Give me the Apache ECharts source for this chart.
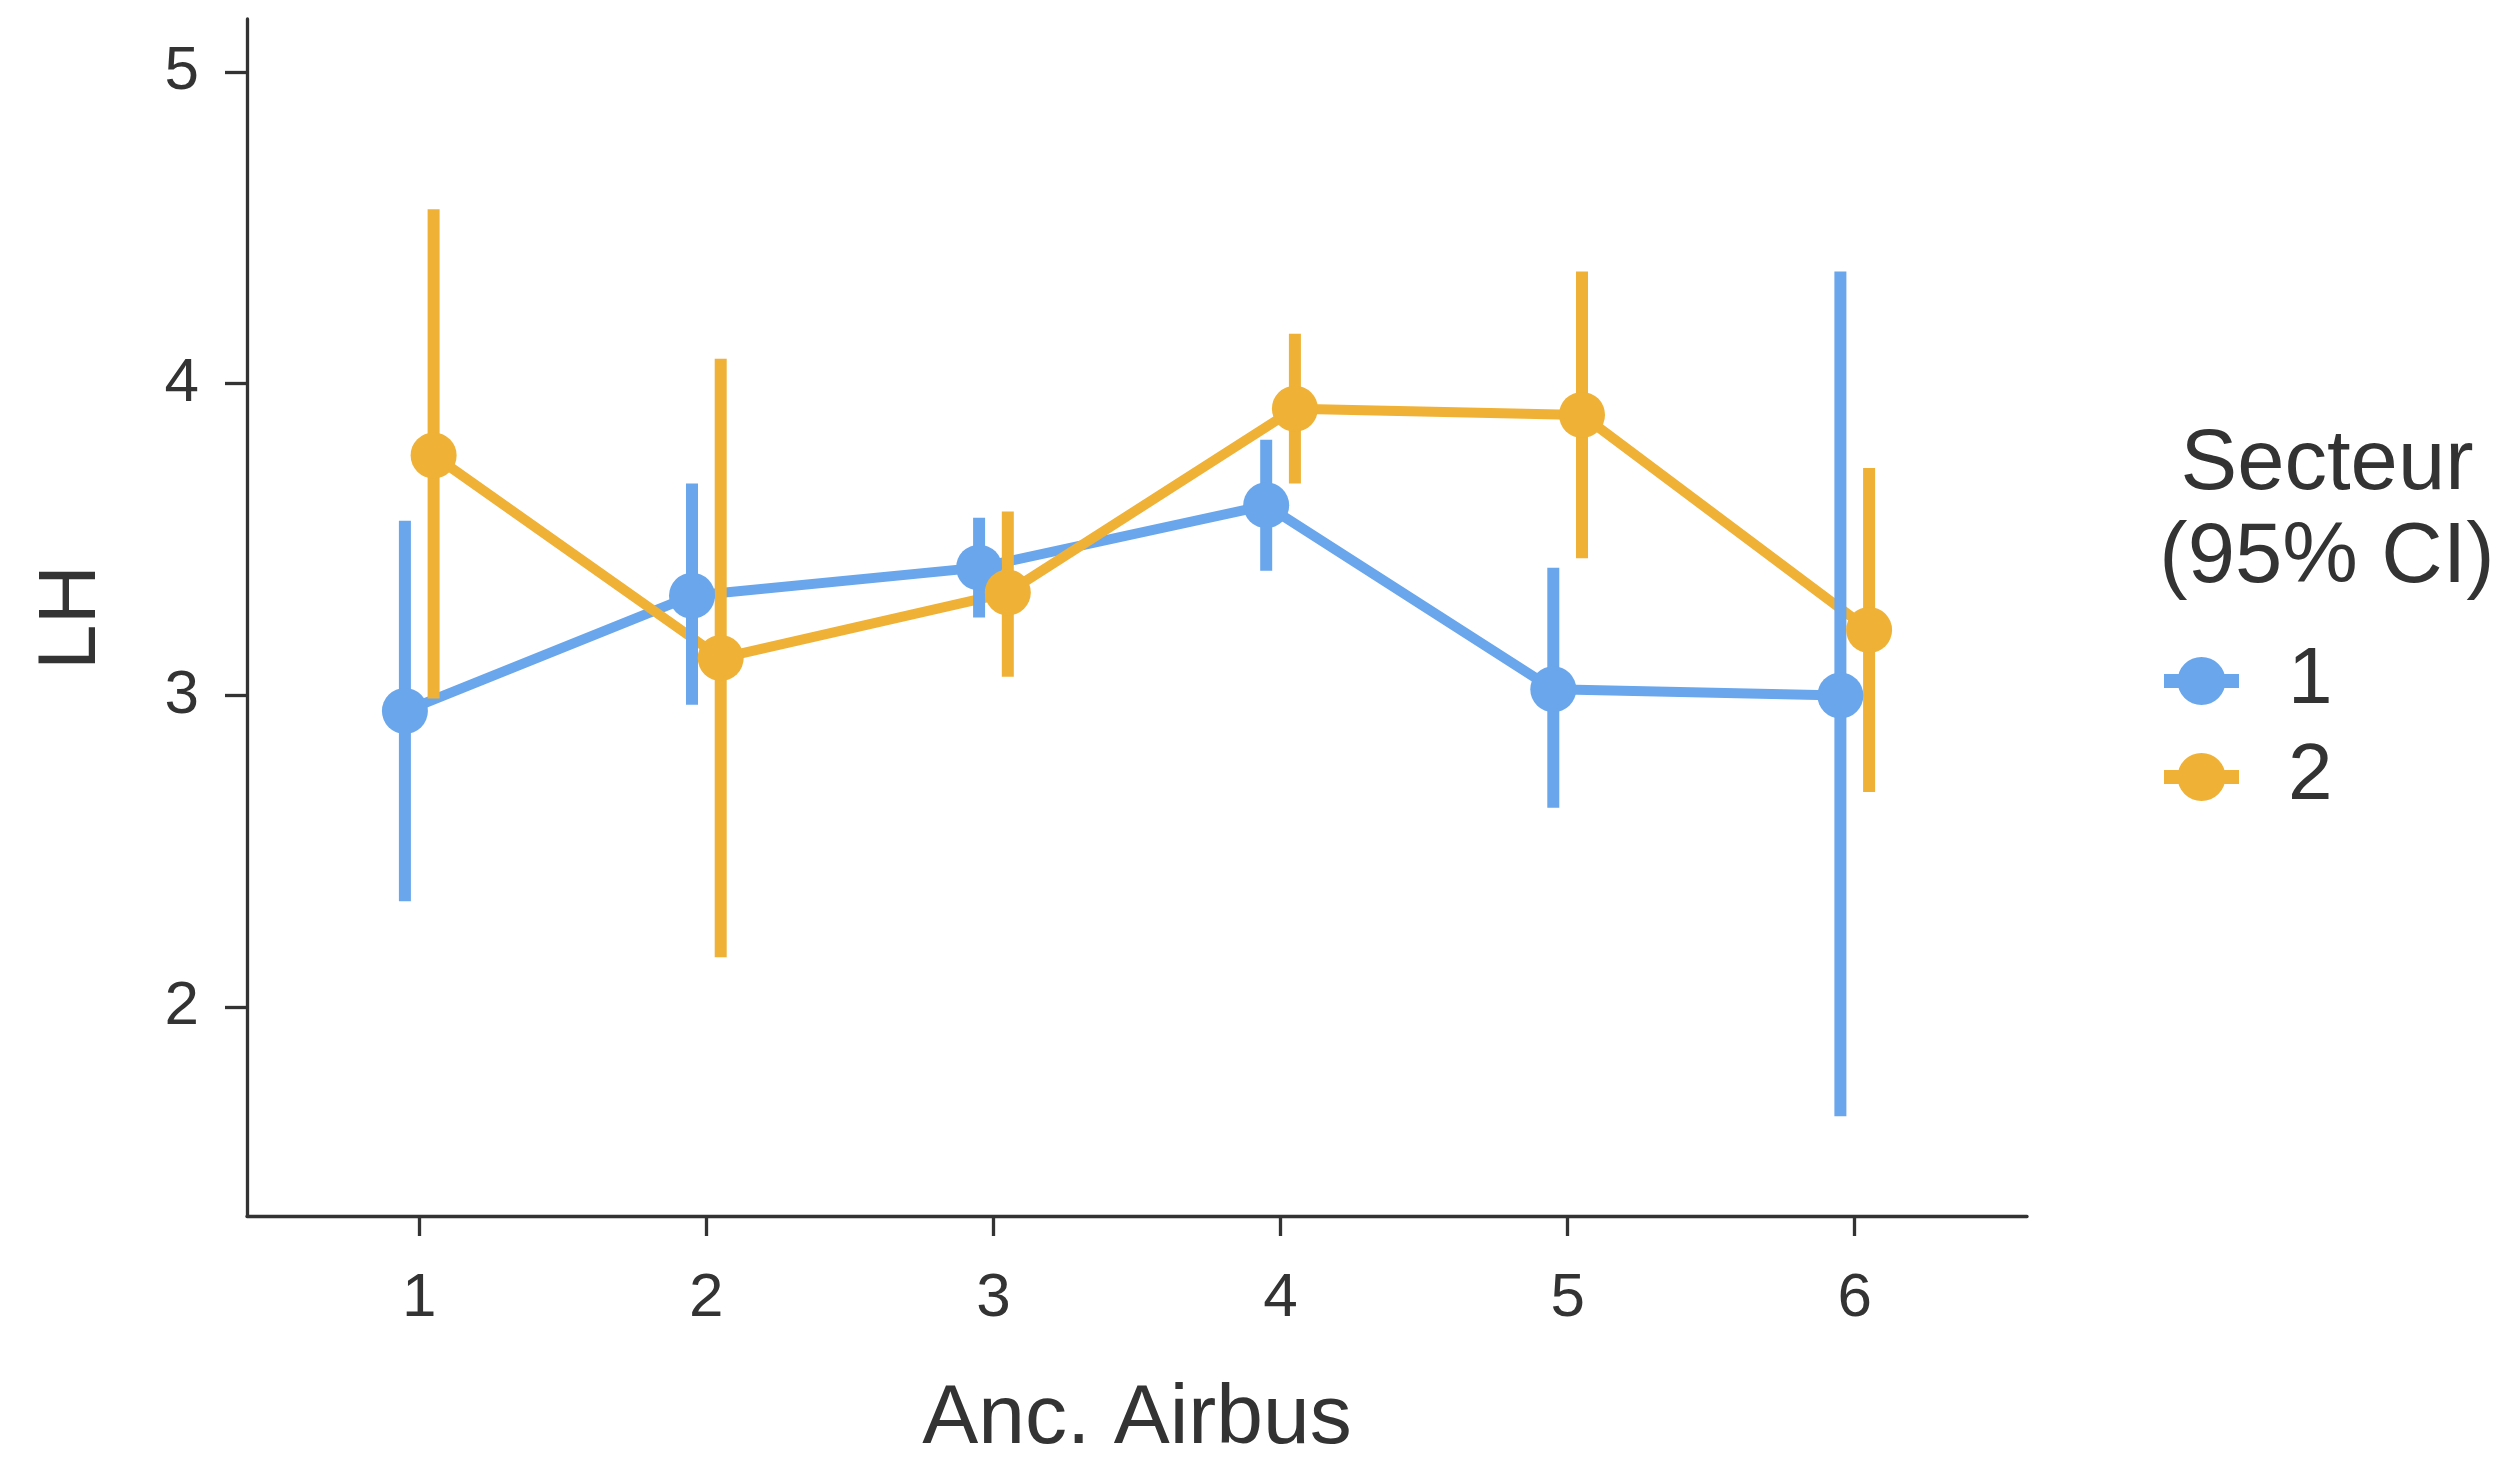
<!DOCTYPE html>
<html>
<head>
<meta charset="utf-8">
<script src="https://cdn.jsdelivr.net/npm/echarts@6/dist/echarts.min.js"></script>
<style>html,body{margin:0;padding:0;background:#fff}#c{width:2499px;height:1461px}</style>
</head>
<body>
<div id="c"></div>
<script>
// ---- data ----
const categories = [1, 2, 3, 4, 5, 6];
const xTickLabels = ['1', '2', '3', '4', '5', '6'];
const yTickValues = [2, 3, 4, 5];
const seriesNames = ['1', '2'];
const mean1 = [2.95, 3.32, 3.41, 3.61, 3.02, 3.00];
const low1  = [2.34, 2.97, 3.25, 3.40, 2.64, 1.65];
const high1 = [3.56, 3.68, 3.57, 3.82, 3.41, 4.36];
const mean2 = [3.77, 3.12, 3.33, 3.92, 3.90, 3.21];
const low2  = [2.99, 2.16, 3.06, 3.68, 3.44, 2.69];
const high2 = [4.56, 4.08, 3.59, 4.16, 4.36, 3.73];

const colors = ['#6AA6EB', '#EFB136'];
const dodge = 0.05;
const FONT = '"Liberation Sans", Arial, Helvetica, sans-serif';
const TXT = '#333333';

function pts(means, off) { return categories.map((c, i) => [c + off, means[i]]); }
function bars(lo, hi, off) { return categories.map((c, i) => [c + off, lo[i], hi[i]]); }

function errSeries(name, lo, hi, off, color) {
  return {
    name: name, type: 'custom', z: 3,
    data: bars(lo, hi, off),
    encode: { x: 0, y: [1, 2] },
    renderItem: function (params, api) {
      const p1 = api.coord([api.value(0), api.value(1)]);
      const p2 = api.coord([api.value(0), api.value(2)]);
      return { type: 'line', shape: { x1: p1[0], y1: p1[1], x2: p2[0], y2: p2[1] },
               style: { stroke: color, lineWidth: 12, lineCap: 'butt' } };
    },
    silent: true
  };
}

const legendIcon = 'path://M0,17 L75,17 L75,31 L0,31 Z M37.5,0 A24,24 0 1,1 37.5,48 A24,24 0 1,1 37.5,0 Z';

const chart = echarts.init(document.getElementById('c'), null, { renderer: 'canvas' });
chart.setOption({
  backgroundColor: '#ffffff',
  animation: false,
  color: colors,
  grid: { left: 247, right: 472, top: 19, bottom: 245, containLabel: false, outerBoundsMode: 'none' },
  xAxis: {
    type: 'value', min: 0.4, max: 6.6,
    name: 'Anc. Airbus', nameLocation: 'middle', nameGap: 204,
    nameTextStyle: { fontFamily: FONT, fontSize: 84, color: TXT, verticalAlign: 'middle' },
    axisLine: { show: true, lineStyle: { color: '#333333', width: 3.3 } },
    axisTick: { show: true, length: 20, lineStyle: { color: '#333333', width: 3.3 }, customValues: categories },
    axisLabel: { fontFamily: FONT, fontSize: 62, color: TXT, margin: 52, customValues: categories,
                 formatter: v => xTickLabels[categories.indexOf(v)] },
    splitLine: { show: false }
  },
  yAxis: {
    type: 'value', min: 1.33, max: 5.17,
    name: 'LH', nameLocation: 'middle', nameGap: 175, nameRotate: 90,
    nameTextStyle: { fontFamily: FONT, fontSize: 82, color: TXT, verticalAlign: 'middle' },
    axisLine: { show: true, lineStyle: { color: '#333333', width: 3.3 } },
    axisTick: { show: true, length: 22, lineStyle: { color: '#333333', width: 3.3 }, customValues: yTickValues },
    axisLabel: { fontFamily: FONT, fontSize: 62, color: TXT, margin: 48, customValues: yTickValues },
    splitLine: { show: false }
  },
  legend: {
    orient: 'vertical', left: 2159, top: 636,
    itemWidth: 75, itemHeight: 48, itemGap: 16,
    data: [{ name: seriesNames[0], icon: legendIcon }, { name: seriesNames[1], icon: legendIcon }],
    textStyle: { fontFamily: FONT, fontSize: 80, color: TXT, padding: [0, 0, 0, 44] },
    selectedMode: false
  },
  graphic: [{
    type: 'text', x: 2327, y: 512,
    style: { text: 'Secteur\n(95% CI)', fontFamily: FONT, fontSize: 85, lineHeight: 93,
             fill: TXT, textAlign: 'center', textVerticalAlign: 'middle' }
  }],
  series: [
    { name: seriesNames[0], type: 'line', data: pts(mean1, -dodge), showSymbol: false, z: 2,
      lineStyle: { color: colors[0], width: 10 }, itemStyle: { color: colors[0] } },
    { name: seriesNames[1], type: 'line', data: pts(mean2, dodge), showSymbol: false, z: 2,
      lineStyle: { color: colors[1], width: 10 }, itemStyle: { color: colors[1] } },
    errSeries(seriesNames[0], low1, high1, -dodge, colors[0]),
    errSeries(seriesNames[1], low2, high2, dodge, colors[1]),
    { name: seriesNames[0], type: 'scatter', data: pts(mean1, -dodge), symbolSize: 46, z: 4,
      itemStyle: { color: colors[0], opacity: 1 } },
    { name: seriesNames[1], type: 'scatter', data: pts(mean2, dodge), symbolSize: 46, z: 4,
      itemStyle: { color: colors[1], opacity: 1 } }
  ]
});
</script>
</body>
</html>
